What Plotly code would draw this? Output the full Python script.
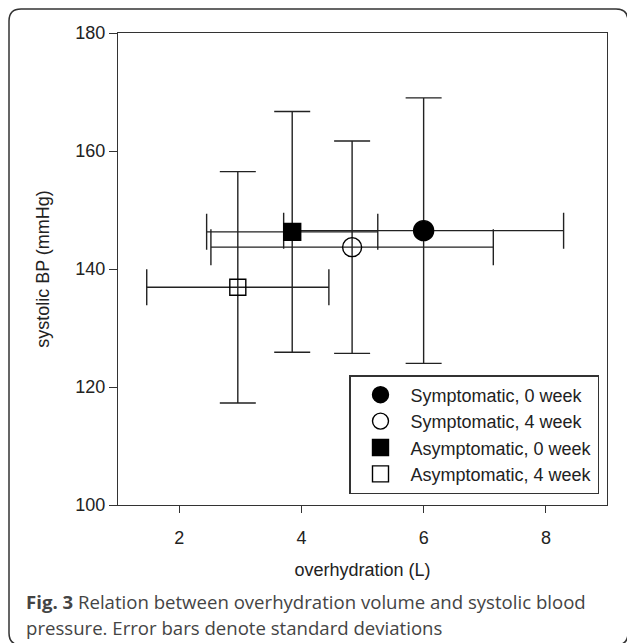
import plotly.graph_objects as go

# ---- data ----
labels = ["Symptomatic, 0 week", "Symptomatic, 4 week",
          "Asymptomatic, 0 week", "Asymptomatic, 4 week"]
oh_mean = [6.00, 4.83, 3.85, 2.96]      # overhydration (L)
oh_sd = [2.29, 2.31, 1.40, 1.49]
sbp_mean = [146.5, 143.7, 146.3, 136.9]  # systolic BP (mmHg)
sbp_sd = [22.5, 18.0, 20.4, 19.6]
x_ticks = [2, 4, 6, 8]
y_ticks = [100, 120, 140, 160, 180]

symbols = ["circle", "circle-open", "square", "square-open"]
sizes = [20, 19, 17, 16]

W, H = 627, 643
ML, MR, MT, MB = 118, 20, 33, 138
PW, PH = W - ML - MR, H - MT - MB

fig = go.Figure()
for i, lab in enumerate(labels):
    fig.add_trace(go.Scatter(
        x=[oh_mean[i]], y=[sbp_mean[i]], mode="markers", name=lab,
        marker=dict(symbol=symbols[i], size=sizes[i], color="#000000",
                    line=dict(color="#000000", width=1.4)),
        error_x=dict(type="data", array=[oh_sd[i]], visible=True,
                     color="#222222", thickness=1.4, width=18),
        error_y=dict(type="data", array=[sbp_sd[i]], visible=True,
                     color="#222222", thickness=1.4, width=18),
    ))

font_main = "Liberation Sans, Arial, sans-serif"

def fx(px):
    return (px - ML) / PW

def fy(py):
    return (MT + PH - py) / PH

L, T, R, B, r = 9, 9, 628, 645, 12
path = (f"M {fx(L+r)},{fy(T)} L {fx(R-r)},{fy(T)} Q {fx(R)},{fy(T)} {fx(R)},{fy(T+r)} "
        f"L {fx(R)},{fy(B-r)} Q {fx(R)},{fy(B)} {fx(R-r)},{fy(B)} "
        f"L {fx(L+r)},{fy(B)} Q {fx(L)},{fy(B)} {fx(L)},{fy(B-r)} "
        f"L {fx(L)},{fy(T+r)} Q {fx(L)},{fy(T)} {fx(L+r)},{fy(T)} Z")

fig.update_layout(
    width=W, height=H,
    margin=dict(l=ML, r=MR, t=MT, b=MB),
    paper_bgcolor="white", plot_bgcolor="white",
    font=dict(family=font_main, size=18, color="#222222"),
    showlegend=True,
    legend=dict(x=fx(599), y=fy(494), xanchor="right", yanchor="bottom",
                bordercolor="#333333", borderwidth=1.5, bgcolor="white",
                font=dict(family=font_main, size=18, color="#222222"),
                itemwidth=50, tracegroupgap=0),
    xaxis=dict(range=[1, 9], tickvals=x_ticks, ticks="outside", ticklen=7,
               tickwidth=1.3, tickcolor="#333333", showline=True, linecolor="#333333",
               linewidth=1.4, mirror=True, showgrid=False, zeroline=False,
               ticklabelstandoff=9,
               title=dict(text="overhydration (L)", font=dict(size=18), standoff=16)),
    yaxis=dict(range=[100, 180], tickvals=y_ticks, ticks="outside", ticklen=8,
               tickwidth=1.3, tickcolor="#333333", showline=True, linecolor="#333333",
               linewidth=1.4, mirror=True, showgrid=False, zeroline=False,
               title=dict(text="systolic BP (mmHg)", font=dict(size=18), standoff=20)),
    shapes=[dict(type="path", xref="paper", yref="paper", path=path,
                 line=dict(color="#333333", width=1.5), layer="below")],
    annotations=[
        dict(xref="paper", yref="paper", x=fx(24), y=fy(601), xanchor="left",
             yanchor="middle", showarrow=False, align="left",
             text="<b>Fig. 3</b> Relation between overhydration volume and systolic blood",
             font=dict(family="Open Sans, sans-serif", size=18.6, color="#444444")),
        dict(xref="paper", yref="paper", x=fx(24), y=fy(627), xanchor="left",
             yanchor="middle", showarrow=False, align="left",
             text="pressure. Error bars denote standard deviations",
             font=dict(family="Open Sans, sans-serif", size=18.6, color="#444444")),
    ],
)

fig.write_html("out.html")
